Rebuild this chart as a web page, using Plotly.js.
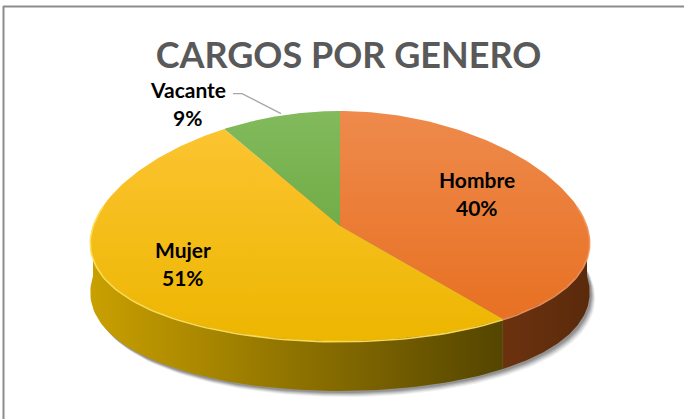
<!DOCTYPE html>
<html><head><meta charset="utf-8">
<script src="https://cdn.plot.ly/plotly-3.0.1.min.js"></script>
<style>html,body{margin:0;padding:0;background:#fff}</style>
</head><body><div id="chart" style="width:684px;height:419px"></div>
<script>
// ---- data ----
const categories = ["Hombre", "Mujer", "Vacante"];
const values = [40, 51, 9];
const titleText = "CARGOS POR GENERO";
// ---- styles ----
const topColors = [["#EE8A4C", "#E76E1E"], ["#FDC535", "#EDB600"], ["#82BA5C", "#60A033"]];
const sideColors = [["#6C320F", "#5A2A0B"], ["#C9A000", "#544500"], ["#4D7A25", "#3D6A1E"]];
const rimColors = ["rgba(245,150,95,0.9)", "rgba(255,222,90,0.95)", "rgba(150,200,110,0.9)"];
const labelShift = [[0, -11], [-6, -8], [0, 0]];

// ---- geometry (pixel space) ----
const CX = 340, CY = 226, RX = 247, RY = 115, D = 50, P = 0.15;
function pt(theta, r, dz) {
  const t = theta * Math.PI / 180;
  const s = 1 - P * r * Math.cos(t);
  return [CX + RX * r * Math.sin(t) * s, CY - RY * r * Math.cos(t) + dz];
}
function arc(a, b, r, dz, n) {
  const xs = [], ys = [];
  for (let i = 0; i <= n; i++) {
    const p = pt(a + (b - a) * i / n, r, dz);
    xs.push(p[0]); ys.push(p[1]);
  }
  return [xs, ys];
}

const total = values.reduce((a, b) => a + b, 0);
const slices = [];
let acc = 0;
values.forEach((v, i) => {
  const a = acc / total * 360, b = (acc + v) / total * 360;
  slices.push({a, b, mid: (a + b) / 2, i});
  acc += v;
});

const traces = [];
// shadow
for (let k = 1; k <= 5; k++) {
  const [xs, ys] = arc(0, 360, 1, D, 180);
  traces.push({x: xs.map(x => x + 1 + k * 0.9), y: ys.map(y => y + 1 + k * 1.0), mode: "lines", fill: "toself",
    fillcolor: "rgba(50,50,50," + (0.24 - k * 0.035) + ")", line: {width: 0}, hoverinfo: "skip"});
}
// sides
slices.forEach(s => {
  const a = Math.max(s.a, 90), b = Math.min(s.b, 270);
  if (b <= a) return;
  const [tx, ty] = arc(a, b, 1, 0, 80);
  const [bx, by] = arc(a, b, 1, D, 80);
  traces.push({x: tx.concat(bx.slice().reverse()), y: ty.concat(by.slice().reverse()), mode: "lines", fill: "toself",
    fillgradient: {type: "horizontal", colorscale: [[0, sideColors[s.i][0]], [1, sideColors[s.i][1]]]},
    line: {width: 0}, hoverinfo: "skip"});
});
// tops
slices.forEach(s => {
  const [xs, ys] = arc(s.a, s.b, 1, 0, 120);
  const c = pt(0, 0, 0);
  xs.unshift(c[0]); ys.unshift(c[1]); xs.push(c[0]); ys.push(c[1]);
  traces.push({x: xs, y: ys, mode: "lines", fill: "toself",
    fillgradient: {type: "vertical", start: CY - RY, stop: CY + RY,
      colorscale: [[0, topColors[s.i][0]], [1, topColors[s.i][1]]]},
    line: {width: 0}, hoverinfo: "skip"});
});
// rim highlight
slices.forEach(s => {
  const a = Math.max(s.a, 80), b = Math.min(s.b, 280);
  if (b <= a) return;
  const [xs, ys] = arc(a, b, 1, 0.8, 80);
  traces.push({x: xs, y: ys, mode: "lines", line: {width: 1.6, color: rimColors[s.i]}, hoverinfo: "skip"});
});

// labels
const annotations = [];
const font = {family: "Lato, 'Open Sans', sans-serif", size: 21, color: "#000000", weight: 700};
const insideR = [0.6, 0.7, 0.6];
slices.forEach(s => {
  const pct = Math.round(values[s.i] / total * 100) + "%";
  let cx, cy;
  if (values[s.i] / total < 0.15) {
    const e = pt(s.mid, 1, -2);
    const elbow = [e[0] - 39, e[1] - 20];
    const end = [elbow[0] - 9, elbow[1]];
    traces.push({x: [e[0], elbow[0], end[0]], y: [e[1], elbow[1], end[1]], mode: "lines",
      line: {color: "#A6A6A6", width: 1.3}, hoverinfo: "skip"});
    cx = end[0] - 45.5; cy = end[1] + 9.5;
  } else {
    const p = pt(s.mid, insideR[s.i], 0);
    cx = p[0] + labelShift[s.i][0]; cy = p[1] + labelShift[s.i][1];
  }
  annotations.push({x: cx, y: cy, text: categories[s.i], showarrow: false, font, yshift: 14, xanchor: "center", yanchor: "middle"});
  annotations.push({x: cx, y: cy, text: pct, showarrow: false, font, yshift: -14, xanchor: "center", yanchor: "middle"});
});

const layout = {
  width: 684, height: 419, margin: {l: 0, r: 0, t: 0, b: 0},
  paper_bgcolor: "#ffffff", plot_bgcolor: "#ffffff", showlegend: false,
  xaxis: {range: [0, 684], visible: false, fixedrange: true},
  yaxis: {range: [419, 0], visible: false, fixedrange: true},
  title: {text: titleText, x: 348.5 / 684, xanchor: "center", y: 1 - 55 / 419, yanchor: "middle",
    font: {family: "Lato, 'Open Sans', sans-serif", size: 36, color: "#595959", weight: 700}},
  annotations,
  shapes: [
    {type: "line", x0: 3, x1: 684, y0: 6.5, y1: 6.5, line: {color: "#8C8C8C", width: 2}},
    {type: "line", x0: 3.5, x1: 3.5, y0: 6, y1: 419, line: {color: "#8C8C8C", width: 2}}
  ]
};
Plotly.newPlot("chart", traces, layout, {staticPlot: true, displayModeBar: false});
</script></body></html>
